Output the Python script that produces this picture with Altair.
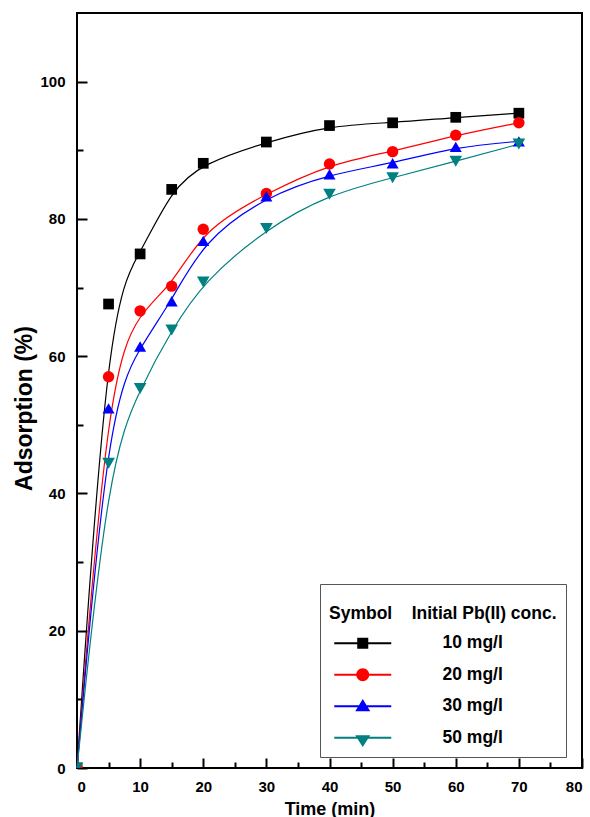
import altair as alt
import pandas as pd

# ---- data ----
time_min = [0, 5, 10, 15, 20, 30, 40, 50, 60, 70]
series_names = ["10 mg/l", "20 mg/l", "30 mg/l", "50 mg/l"]
ads_10 = [0, 67.6, 74.9, 84.3, 88.1, 91.2, 93.6, 94.0, 94.8, 95.4]
ads_20 = [0, 57.0, 66.6, 70.2, 78.5, 83.7, 88.0, 89.8, 92.2, 94.0]
ads_30 = [0, 52.4, 61.4, 68.0, 76.8, 83.3, 86.5, 88.1, 90.5, 91.3]
ads_50 = [0, 44.4, 55.3, 63.8, 70.8, 78.6, 83.6, 86.0, 88.4, 90.9]

x_major = [0, 10, 20, 30, 40, 50, 60, 70, 80]
x_minor = [5, 15, 25, 35, 45, 55, 65, 75]
y_major = [0, 20, 40, 60, 80, 100]
y_minor = [10, 30, 50, 70, 90]

colors = ["#000000", "#ff0000", "#0000ff", "#008080"]
shapes = ["square", "circle", "triangle-up", "triangle-down"]
sizes = [115, 160, 160, 160]

# legend symbols: a line with the marker on it
BAR = "M-4.75,-0.17H4.75V0.17H-4.75Z"
legend_paths = [
    BAR + "M-0.92,-0.92H0.92V0.92H-0.92Z",
    BAR + "M-1.08,0A1.08,1.08 0 1,1 1.08,0A1.08,1.08 0 1,1 -1.08,0Z",
    BAR + "M0,-1.2L1.25,0.83L-1.25,0.83Z",
    BAR + "M-1.25,-0.4L1.25,-0.4L0,1.55Z",
]

rows = []
for name, vals in zip(series_names, [ads_10, ads_20, ads_30, ads_50]):
    for t, v in zip(time_min, vals):
        rows.append({"time": t, "ads": v, "series": name})
df = pd.DataFrame(rows)

FONT = "Liberation Sans"
W, H = 505, 755

xs = alt.Scale(domain=[0, 80], nice=False, zero=False)
ys = alt.Scale(domain=[0, 110], nice=False, zero=False)


def cscale():
    return alt.Scale(domain=series_names, range=colors)


lines = alt.Chart(df).mark_line(interpolate="basis", strokeWidth=1.2).encode(
    x=alt.X("time:Q", scale=xs, axis=alt.Axis(
        orient="bottom", values=x_major, ticks=False, tickSize=0, labelPadding=11,
        title="Time (min)", titleFontSize=18, titleY=32, titleBaseline="top")),
    y=alt.Y("ads:Q", scale=ys, axis=alt.Axis(
        orient="left", values=y_major, ticks=False, tickSize=0, labelPadding=12,
        title="Adsorption (%)", titleFontSize=23, titleX=-41, titleY=395)),
    color=alt.Color("series:N", scale=cscale(), legend=None),
)

points = alt.Chart(df).mark_point(filled=True, opacity=1, clip=True, strokeWidth=0).encode(
    x=alt.X("time:Q", scale=xs, axis=alt.Axis(
        orient="top", offset=-H, values=x_major, tickSize=10, labels=False,
        title=None)),
    y=alt.Y("ads:Q", scale=ys, axis=alt.Axis(
        orient="right", offset=-W, values=y_major, tickSize=10, labels=False,
        title=None)),
    color=alt.Color("series:N", scale=cscale(), legend=None),
    shape=alt.Shape("series:N", scale=alt.Scale(domain=series_names, range=shapes), legend=None),
    size=alt.Size("series:O", scale=alt.Scale(domain=series_names, range=sizes), legend=None),
)

minor = alt.Chart(df).mark_line(opacity=0).encode(
    x=alt.X("time:Q", scale=xs, axis=alt.Axis(
        orient="top", offset=-H, values=x_minor, tickSize=6, labels=False,
        title=None)),
    y=alt.Y("ads:Q", scale=ys, axis=alt.Axis(
        orient="right", offset=-W, values=y_minor, tickSize=6, labels=False,
        title=None)),
)

leg = alt.Legend(
    orient="none", legendX=243, legendY=571,
    title=["", "Symbol\u00a0\u00a0\u00a0\u00a0Initial Pb(II) conc."],
    titleFont=FONT, titleFontSize=17.5, titleFontWeight="bold", titleColor="black",
    titleLineHeight=12, titlePadding=12, titleLimit=400,
    labelFont=FONT, labelFontSize=17.5, labelFontWeight="bold", labelColor="black",
    labelOffset=71, labelLimit=300,
    symbolSize=144, symbolStrokeWidth=0, symbolOffset=25, symbolOpacity=1,
    rowPadding=12.5, padding=9, strokeColor="#555555", fillColor="white",
)

legend_layer = alt.Chart(df).transform_filter("datum.time < 0").mark_point(filled=True).encode(
    x=alt.X("time:Q", scale=xs, axis=None),
    y=alt.Y("ads:Q", scale=ys, axis=None),
    color=alt.Color("series:N", scale=cscale(), legend=leg),
    shape=alt.Shape("series:N", scale=alt.Scale(domain=series_names, range=legend_paths), legend=leg),
)

chart = alt.layer(lines, points, minor, legend_layer).resolve_scale(
    color="independent", shape="independent", size="independent"
).resolve_axis(
    x="independent", y="independent"
).properties(
    width=W, height=H,
    autosize=alt.AutoSizeParams(type="none"),
    padding={"left": 77, "top": 13, "right": 8, "bottom": 49},
).configure_view(
    stroke="black", strokeWidth=2
).configure_axis(
    grid=False, domain=False,
    labelFont=FONT, labelFontSize=15, labelFontWeight="bold", labelColor="black",
    titleFont=FONT, titleFontWeight="bold", titleColor="black",
    tickColor="black", tickWidth=2,
)

chart.save("out.html", embed_options={"renderer": "svg", "actions": False})
